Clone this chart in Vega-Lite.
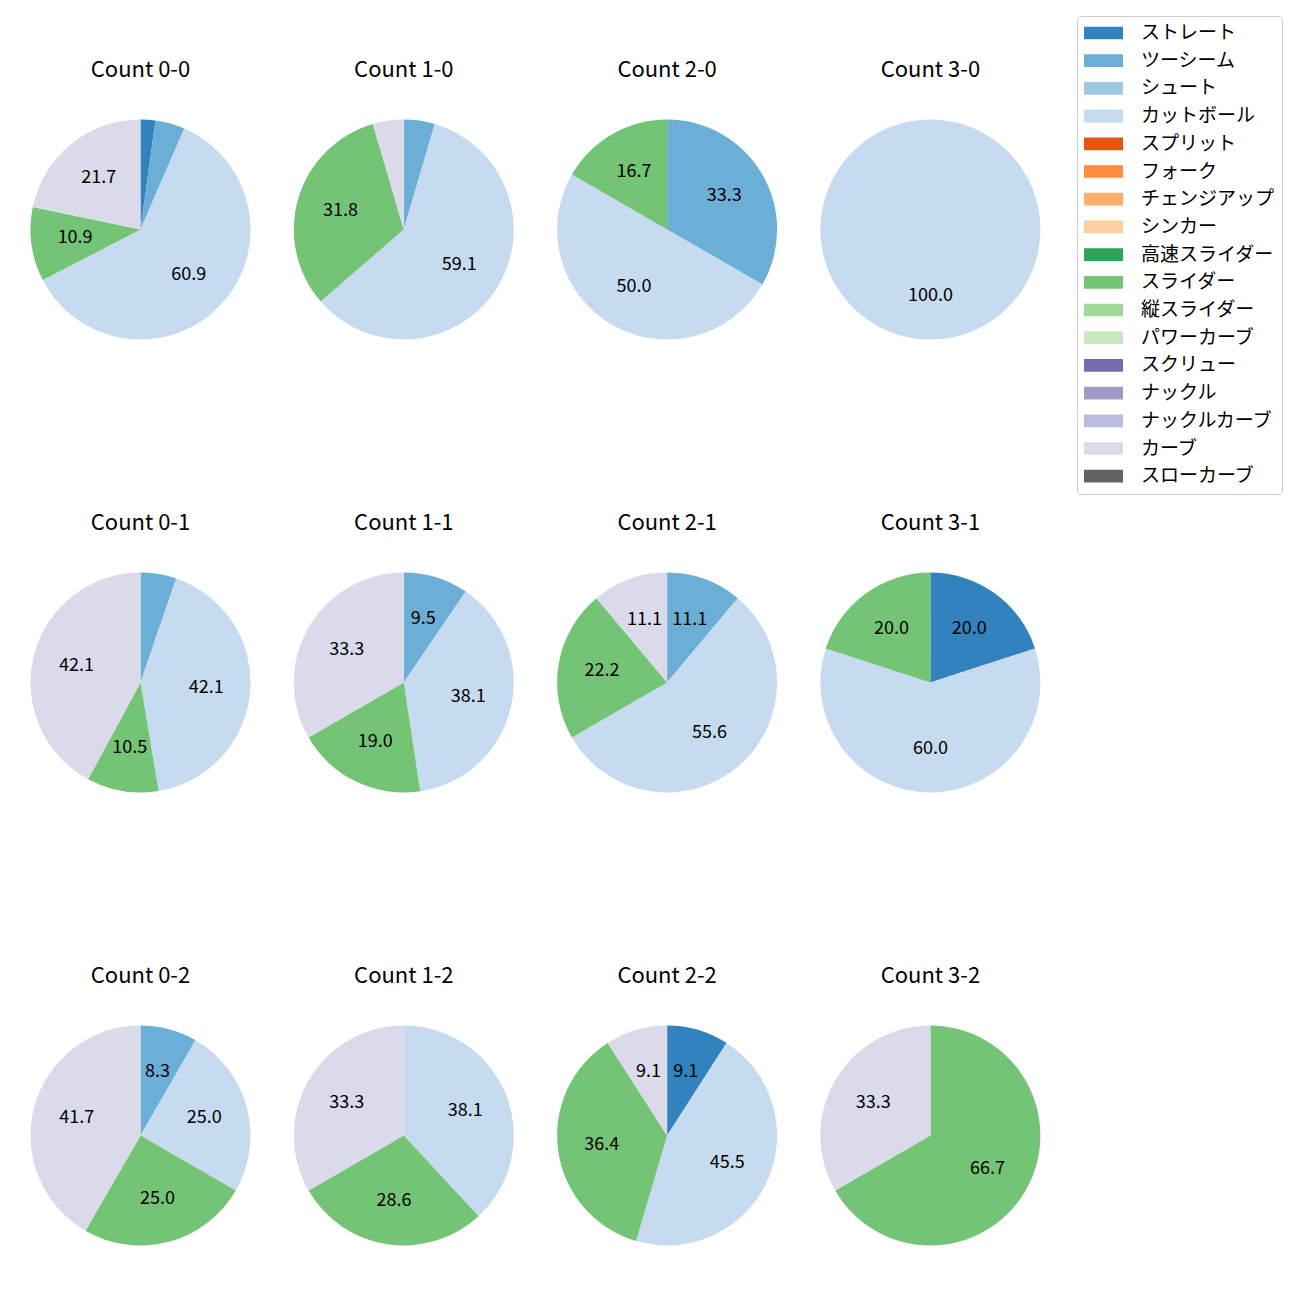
{
  "$schema": "https://vega.github.io/schema/vega-lite/v6.json",
  "padding": {"left": 30.5, "top": 15.5, "right": 0, "bottom": 0},
  "config": {
    "font": "Noto Sans CJK JP",
    "view": {"stroke": null},
    "legend": {
      "orient": "none",
      "legendX": 1046.5,
      "legendY": -103.5,
      "title": null,
      "symbolType": "M-1,-0.635H2.9V0.635H-1Z",
      "symbolSize": 400,
      "symbolStrokeWidth": 0,
      "symbolOpacity": 1,
      "labelFontSize": 19,
      "labelFont": "Noto Sans CJK JP",
      "labelColor": "#000000",
      "labelOffset": 37,
      "strokeColor": "#cccccc",
      "fillColor": "#ffffff",
      "cornerRadius": 4,
      "padding": 7,
      "rowPadding": 7.7
    }
  },
  "data": {"values": [
    {"c": "Count 0-0", "p": "ストレート", "o": 0, "v": 2.1739},
    {"c": "Count 0-0", "p": "ツーシーム", "o": 1, "v": 4.3478},
    {"c": "Count 0-0", "p": "カットボール", "o": 3, "v": 60.8696},
    {"c": "Count 0-0", "p": "スライダー", "o": 9, "v": 10.8696},
    {"c": "Count 0-0", "p": "カーブ", "o": 15, "v": 21.7391},
    {"c": "Count 1-0", "p": "ツーシーム", "o": 1, "v": 4.5455},
    {"c": "Count 1-0", "p": "カットボール", "o": 3, "v": 59.0909},
    {"c": "Count 1-0", "p": "スライダー", "o": 9, "v": 31.8182},
    {"c": "Count 1-0", "p": "カーブ", "o": 15, "v": 4.5455},
    {"c": "Count 2-0", "p": "ツーシーム", "o": 1, "v": 33.3333},
    {"c": "Count 2-0", "p": "カットボール", "o": 3, "v": 50.0},
    {"c": "Count 2-0", "p": "スライダー", "o": 9, "v": 16.6667},
    {"c": "Count 3-0", "p": "カットボール", "o": 3, "v": 100.0},
    {"c": "Count 0-1", "p": "ツーシーム", "o": 1, "v": 5.2632},
    {"c": "Count 0-1", "p": "カットボール", "o": 3, "v": 42.1053},
    {"c": "Count 0-1", "p": "スライダー", "o": 9, "v": 10.5263},
    {"c": "Count 0-1", "p": "カーブ", "o": 15, "v": 42.1053},
    {"c": "Count 1-1", "p": "ツーシーム", "o": 1, "v": 9.5238},
    {"c": "Count 1-1", "p": "カットボール", "o": 3, "v": 38.0952},
    {"c": "Count 1-1", "p": "スライダー", "o": 9, "v": 19.0476},
    {"c": "Count 1-1", "p": "カーブ", "o": 15, "v": 33.3333},
    {"c": "Count 2-1", "p": "ツーシーム", "o": 1, "v": 11.1111},
    {"c": "Count 2-1", "p": "カットボール", "o": 3, "v": 55.5556},
    {"c": "Count 2-1", "p": "スライダー", "o": 9, "v": 22.2222},
    {"c": "Count 2-1", "p": "カーブ", "o": 15, "v": 11.1111},
    {"c": "Count 3-1", "p": "ストレート", "o": 0, "v": 20.0},
    {"c": "Count 3-1", "p": "カットボール", "o": 3, "v": 60.0},
    {"c": "Count 3-1", "p": "スライダー", "o": 9, "v": 20.0},
    {"c": "Count 0-2", "p": "ツーシーム", "o": 1, "v": 8.3333},
    {"c": "Count 0-2", "p": "カットボール", "o": 3, "v": 25.0},
    {"c": "Count 0-2", "p": "スライダー", "o": 9, "v": 25.0},
    {"c": "Count 0-2", "p": "カーブ", "o": 15, "v": 41.6667},
    {"c": "Count 1-2", "p": "カットボール", "o": 3, "v": 38.0952},
    {"c": "Count 1-2", "p": "スライダー", "o": 9, "v": 28.5714},
    {"c": "Count 1-2", "p": "カーブ", "o": 15, "v": 33.3333},
    {"c": "Count 2-2", "p": "ストレート", "o": 0, "v": 9.0909},
    {"c": "Count 2-2", "p": "カットボール", "o": 3, "v": 45.4545},
    {"c": "Count 2-2", "p": "スライダー", "o": 9, "v": 36.3636},
    {"c": "Count 2-2", "p": "カーブ", "o": 15, "v": 9.0909},
    {"c": "Count 3-2", "p": "スライダー", "o": 9, "v": 66.6667},
    {"c": "Count 3-2", "p": "カーブ", "o": 15, "v": 33.3333}
  ]},
  "facet": {
    "field": "c",
    "type": "nominal",
    "sort": ["Count 0-0", "Count 1-0", "Count 2-0", "Count 3-0", "Count 0-1", "Count 1-1", "Count 2-1", "Count 3-1", "Count 0-2", "Count 1-2", "Count 2-2", "Count 3-2"],
    "header": {"title": null, "labelFontSize": 22, "labelColor": "#000000", "labelFont": "Noto Sans CJK JP", "labelPadding": 38}
  },
  "columns": 4,
  "spacing": {"column": 43.3, "row": 172},
  "resolve": {"scale": {"theta": "independent"}},
  "spec": {
    "width": 220,
    "height": 220,
    "encoding": {
      "theta": {"field": "v", "type": "quantitative", "stack": true},
      "order": {"field": "o", "type": "quantitative", "sort": "ascending"}
    },
    "layer": [
      {
        "mark": {"type": "arc", "outerRadius": 110, "strokeWidth": 0},
        "encoding": {
          "color": {
            "field": "p",
            "type": "nominal",
            "scale": {
              "domain": ["ストレート", "ツーシーム", "シュート", "カットボール", "スプリット", "フォーク", "チェンジアップ", "シンカー", "高速スライダー", "スライダー", "縦スライダー", "パワーカーブ", "スクリュー", "ナックル", "ナックルカーブ", "カーブ", "スローカーブ"],
              "range": ["#3182bd", "#6baed6", "#9ecae1", "#c6dbef", "#e6550d", "#fd8d3c", "#fdae6b", "#fdd0a2", "#31a354", "#74c476", "#a1d99b", "#c7e9c0", "#756bb1", "#9e9ac8", "#bcbddc", "#dadaeb", "#636363"]
            }
          }
        }
      },
      {
        "mark": {"type": "text", "radius": 66, "fontSize": 18, "color": "#000000"},
        "encoding": {
          "text": {"condition": {"test": "datum.v < 6", "value": ""}, "field": "v", "type": "quantitative", "format": ".1f"}
        }
      }
    ]
  }
}
